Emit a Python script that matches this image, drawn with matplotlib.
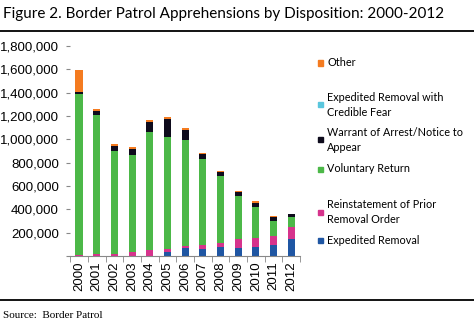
import matplotlib
matplotlib.use("Agg")
import matplotlib.pyplot as plt
import numpy as np
from matplotlib.patches import Rectangle
from matplotlib.ticker import FuncFormatter

years = [str(y) for y in range(2000, 2013)]

# values in thousands (stack order bottom -> top)
expedited_removal = [0, 0, 0, 0, 0, 37, 63, 57, 77, 71, 80, 94, 146]
reinstatement = [8, 12, 20, 35, 50, 23, 23, 37, 37, 72, 71, 77, 100]
voluntary_return = [1380, 1193, 880, 828, 1016, 963, 908, 737, 572, 371, 269, 132, 83]
warrant_nta = [18, 37, 40, 57, 80, 148, 86, 40, 34, 37, 37, 28, 28]
credible_fear = [0, 0, 0, 0, 0, 0, 0, 0, 0, 0, 0, 0, 0]  # too small to see
other = [190, 14, 15, 15, 20, 23, 14, 9, 6, 9, 9, 12, 6]

series = [
    ("Expedited Removal", expedited_removal, "#1f56a3"),
    ("Reinstatement of Prior\nRemoval Order", reinstatement, "#d6338c"),
    ("Voluntary Return", voluntary_return, "#4cb848"),
    ("Warrant of Arrest/Notice to\nAppear", warrant_nta, "#0e0b1c"),
    ("Expedited Removal with\nCredible Fear", credible_fear, "#5ac6dd"),
    ("Other", other, "#f47b20"),
]

fig = plt.figure(figsize=(4.74, 3.28), dpi=100)
ax = fig.add_axes([0.148, 0.22, 0.485, 0.64])

x = np.arange(len(years))
bottom = np.zeros(len(years))
for name, vals, color in series:
    v = np.array(vals) * 1000.0
    ax.bar(x, v, width=0.4, bottom=bottom, color=color, linewidth=0)
    bottom += v

ax.set_xlim(-0.5, len(years) - 0.5)
ax.set_ylim(0, 1800000)
ax.set_yticks(np.arange(0, 1800001, 200000))
ax.yaxis.set_major_formatter(FuncFormatter(lambda v, p: "" if v == 0 else f"{int(v):,}"))
ax.set_xticks(x)
ax.set_xticklabels(years, rotation=90)
ax.set_xticks(np.arange(-0.5, len(years), 1), minor=True)
ax.tick_params(axis="x", which="major", length=0, pad=4)
ax.tick_params(axis="x", which="minor", length=4, color="#888888", direction="out")
ax.tick_params(axis="y", length=3, color="#888888", pad=5)
for lab in ax.get_xticklabels() + ax.get_yticklabels():
    lab.set_fontfamily("Liberation Sans")
    lab.set_fontsize(9.5)
for s in ["top", "right", "left"]:
    ax.spines[s].set_visible(False)
ax.spines["bottom"].set_color("#888888")
ax.spines["bottom"].set_linewidth(0.8)

# legend drawn by hand, Excel-style
legend_y = [63, 105, 140, 169, 212, 240]
for (name, vals, color), yy in zip(series[::-1], legend_y):
    fy = 1 - yy / 328.0
    fig.patches.append(Rectangle((318 / 474.0, fy - 2.5 / 328.0), 5 / 474.0, 5 / 328.0,
                                 transform=fig.transFigure, color=color, zorder=5))
    fig.text(327 / 474.0, fy, name, fontsize=7.8, family="Lato",
             va="center", ha="left", linespacing=1.45)

fig.text(3 / 474.0, 1 - 14 / 328.0, "Figure 2. Border Patrol Apprehensions by Disposition: 2000-2012",
         fontsize=11, family="Lato", va="center", ha="left")
fig.add_artist(plt.Line2D([0, 1], [1 - 31 / 328.0] * 2, color="black", lw=1.3, transform=fig.transFigure))
fig.add_artist(plt.Line2D([0, 1], [1 - 300 / 328.0] * 2, color="black", lw=1.3, transform=fig.transFigure))
fig.text(3 / 474.0, 1 - 315 / 328.0, "Source:  Border Patrol", fontsize=8,
         family="Liberation Serif", va="center", ha="left")

fig.savefig("out.png", dpi=100)
